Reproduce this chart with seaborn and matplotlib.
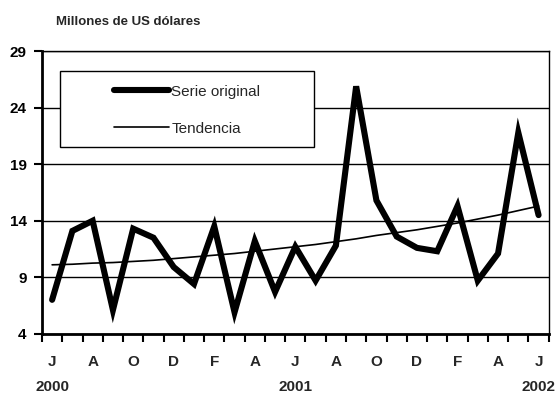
import matplotlib
matplotlib.use("Agg")
import matplotlib.pyplot as plt
from matplotlib.patches import Rectangle
import seaborn as sns
import pandas as pd

# Data: monthly, June 2000 .. June 2002
months = list(range(25))
serie_original = [7.0, 13.1, 14.0, 6.1, 13.3, 12.5, 9.9, 8.4, 13.5, 5.9, 12.2, 7.7,
                  11.7, 8.7, 11.8, 25.9, 15.8, 12.6, 11.6, 11.3, 15.3, 8.7, 11.1, 21.8, 14.5]
tendencia = [10.1, 10.15, 10.25, 10.3, 10.4, 10.5, 10.65, 10.8, 10.95, 11.1, 11.3, 11.5,
             11.7, 11.9, 12.15, 12.4, 12.7, 12.95, 13.2, 13.5, 13.8, 14.15, 14.5, 14.9, 15.3]
month_labels = ["J", "", "A", "", "O", "", "D", "", "F", "", "A", "", "J", "",
                "A", "", "O", "", "D", "", "F", "", "A", "", "J"]
year_positions = [0, 12, 24]
year_labels = ["2000", "2001", "2002"]
y_ticks = [4, 9, 14, 19, 24, 29]

sns.set_style("white")
plt.rcParams["font.family"] = ["Liberation Sans Narrow", "Liberation Sans", "DejaVu Sans"]

df = pd.DataFrame({"mes": months, "Serie original": serie_original, "Tendencia": tendencia})

fig = plt.figure(figsize=(5.56, 3.94), dpi=100)
ax = fig.add_axes([0.0755, 0.153, 0.9114, 0.7168])

sns.lineplot(data=df, x="mes", y="Tendencia", ax=ax, color="black", linewidth=1.2,
             label="Tendencia", zorder=4)
sns.lineplot(data=df, x="mes", y="Serie original", ax=ax, color="black", linewidth=4.4,
             label="Serie original", zorder=5, solid_joinstyle="miter")

ax.set_xlim(-0.5, 24.5)
ax.set_ylim(4, 29)
ax.set_xlabel("")
ax.set_ylabel("")

# y axis
ax.set_yticks(y_ticks)
ax.set_yticklabels([str(v) for v in y_ticks], fontsize=11, fontweight="bold")
ax.tick_params(axis="y", direction="out", length=6, width=1.5, pad=5, left=True, colors="black")
ax.yaxis.grid(True, color="black", linewidth=1.0)
ax.set_axisbelow(True)

# x axis: ticks at category boundaries, labels at centers
ax.set_xticks([m - 0.5 for m in months] + [24.5])
ax.set_xticklabels([])
ax.tick_params(axis="x", which="major", direction="out", length=6, width=1.5, bottom=True, colors="black")
ax.set_xticks(months, minor=True)
ax.set_xticklabels(month_labels, minor=True, fontsize=11, fontweight="bold")
ax.tick_params(axis="x", which="minor", length=0, pad=15)

for pos, lab in zip(year_positions, year_labels):
    ax.text(pos, -0.19, lab, transform=ax.get_xaxis_transform(), ha="center", va="center",
            fontsize=11, fontweight="bold")

for side in ["left", "bottom"]:
    ax.spines[side].set_linewidth(2.0)
    ax.spines[side].set_color("black")
for side in ["top", "right"]:
    ax.spines[side].set_linewidth(1.0)
    ax.spines[side].set_color("black")

# Legend box
box = Rectangle((0.0355, 0.662), 0.5019, 0.268, transform=ax.transAxes,
                facecolor="white", edgecolor="black", linewidth=1.0, zorder=3)
ax.add_patch(box)
handles, labels = ax.get_legend_handles_labels()
order = [labels.index("Serie original"), labels.index("Tendencia")]
leg = ax.legend([handles[i] for i in order], [labels[i] for i in order],
                loc="center", bbox_to_anchor=(0.2865, 0.792), frameon=False,
                fontsize=11, handlelength=3.6, handletextpad=0.15, labelspacing=1.5)
leg.set_zorder(6)

fig.text(56 / 556, 1 - 22 / 394, "Millones de US dólares", ha="left", va="center",
         fontsize=9.5, fontweight="bold")

fig.savefig("out.png", dpi=100)
